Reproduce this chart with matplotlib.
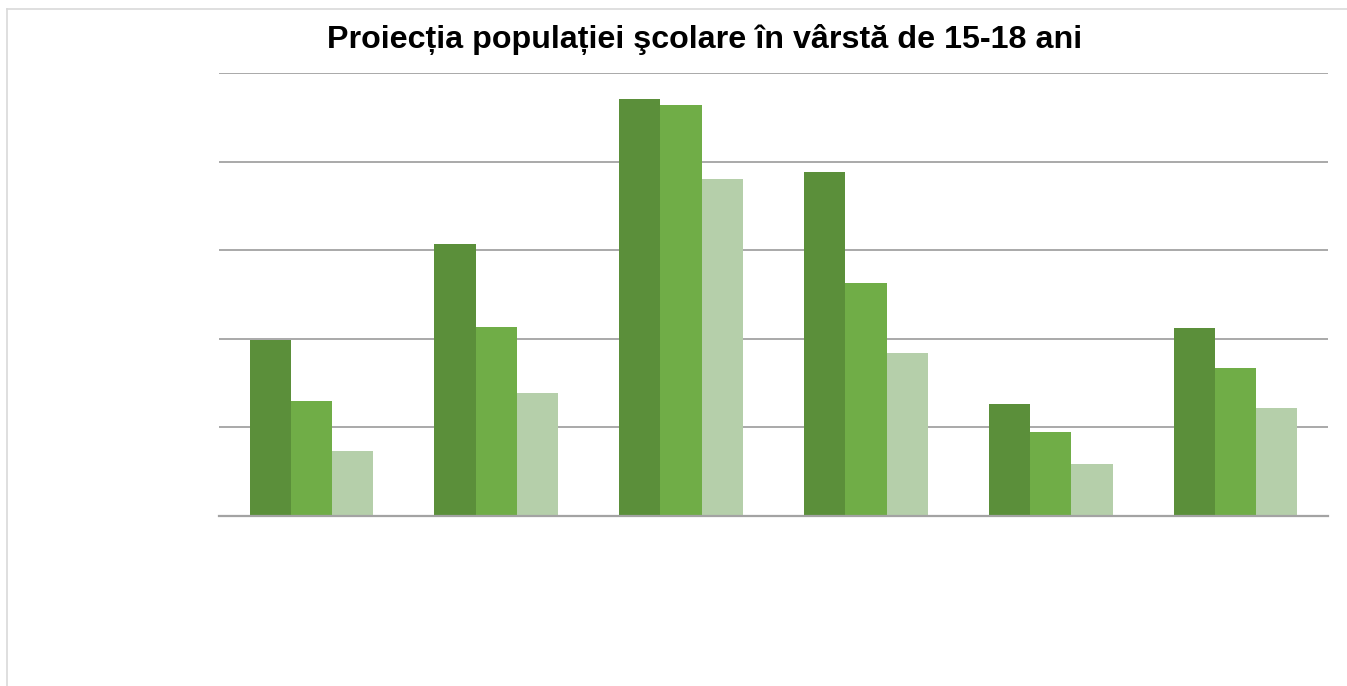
#!/usr/bin/env python3
"""Grouped bar chart: school population projection, ages 15-18."""
import matplotlib
matplotlib.use("Agg")
import matplotlib.pyplot as plt
import numpy as np
from matplotlib.lines import Line2D

TITLE = "Proiecția populației şcolare în vârstă de 15-18 ani"

# categories and series (no labels are shown in the original chart)
categories = ["C1", "C2", "C3", "C4", "C5", "C6"]
series_names = ["S1", "S2", "S3"]
series_a = [1.99, 3.07, 4.71, 3.88, 1.26, 2.12]
series_b = [1.30, 2.13, 4.64, 2.63, 0.95, 1.67]
series_c = [0.73, 1.39, 3.80, 1.84, 0.59, 1.22]
grid_values = [1, 2, 3, 4, 5]

COLORS = ["#5B8F3A", "#70AD47", "#B5CFAA"]


def main() -> None:
    fig = plt.figure(figsize=(13.47, 6.86), dpi=100)
    ax = fig.add_axes([219 / 1347, 170 / 686, 1109 / 1347, 443 / 686])

    x = np.arange(len(categories))
    width = 0.223
    for i, (name, vals) in enumerate(zip(series_names, [series_a, series_b, series_c])):
        ax.bar(x + (i - 1) * width, vals, width=width, color=COLORS[i],
               label=name, zorder=3, linewidth=0)

    ax.set_xlim(-0.5, len(categories) - 0.5)
    ax.set_ylim(0, 5)
    ax.set_yticks(grid_values)
    ax.yaxis.grid(True, color="#A3A3A3", linewidth=1.3, zorder=0)
    ax.axhline(0, color="#A3A3A3", linewidth=1.6, zorder=4, clip_on=False)
    ax.tick_params(left=False, bottom=False, labelleft=False, labelbottom=False)
    for s in ax.spines.values():
        s.set_visible(False)

    fig.text(705 / 1347, 1 - 48 / 686, TITLE, ha="center", va="baseline",
             fontsize=23.2, fontweight="bold", family="Liberation Sans")

    # light chart-area border (top and left edges)
    fig.add_artist(Line2D([7 / 1347, 1], [1 - 9 / 686, 1 - 9 / 686],
                          color="#D9D9D9", linewidth=1.2, transform=fig.transFigure))
    fig.add_artist(Line2D([7 / 1347, 7 / 1347], [0, 1 - 9 / 686],
                          color="#D9D9D9", linewidth=1.2, transform=fig.transFigure))

    fig.savefig("out.png", dpi=100)
    plt.close(fig)


if __name__ == "__main__":
    main()
